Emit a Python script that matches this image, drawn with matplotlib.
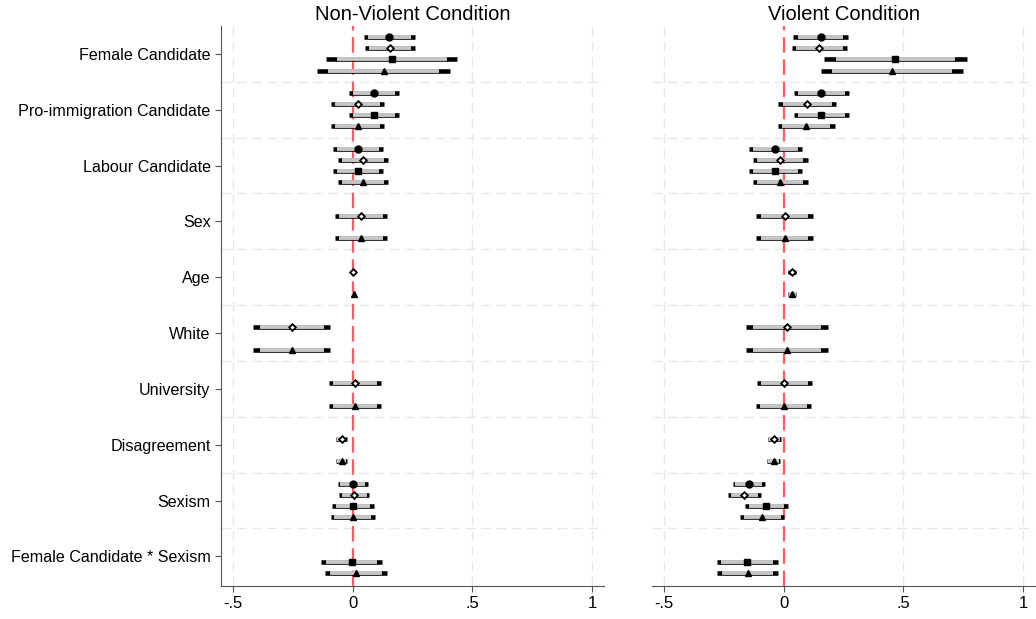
import matplotlib
matplotlib.use('Agg')
import numpy as np
import matplotlib.pyplot as plt

nan = np.nan

terms = ['Female Candidate', 'Pro-immigration Candidate', 'Labour Candidate', 'Sex', 'Age',
         'White', 'University', 'Disagreement', 'Sexism', 'Female Candidate * Sexism']
xticks = [-0.5, 0, 0.5, 1]
xticklabels = ['-.5', '0', '.5', '1']

# Non-violent condition: estimates and standard errors, models 1-4
nv_est_m1 = [0.153, 0.088, 0.021, nan, nan, nan, nan, nan, 0.000, nan]
nv_se_m1 = [0.054, 0.053, 0.053, nan, nan, nan, nan, nan, 0.032, nan]
nv_est_m2 = [0.157, 0.021, 0.042, 0.035, 0.003, -0.254, 0.010, -0.046, 0.007, nan]
nv_se_m2 = [0.053, 0.057, 0.053, 0.055, 0.004, 0.082, 0.055, 0.012, 0.032, nan]
nv_est_m3 = [0.163, 0.088, 0.021, nan, nan, nan, nan, nan, 0.001, -0.004]
nv_se_m3 = [0.140, 0.053, 0.053, nan, nan, nan, nan, nan, 0.044, 0.065]
nv_est_m4 = [0.129, 0.021, 0.042, 0.035, 0.004, -0.254, 0.010, -0.046, 0.001, 0.014]
nv_se_m4 = [0.141, 0.057, 0.053, 0.055, 0.004, 0.082, 0.055, 0.012, 0.047, 0.066]

# Violent condition
v_est_m1 = [0.154, 0.158, -0.035, nan, nan, nan, nan, nan, -0.146, nan]
v_se_m1 = [0.058, 0.059, 0.057, nan, nan, nan, nan, nan, 0.034, nan]
v_est_m2 = [0.149, 0.098, -0.014, 0.004, 0.036, 0.014, 0.003, -0.039, -0.164, nan]
v_se_m2 = [0.059, 0.062, 0.058, 0.060, 0.009, 0.087, 0.059, 0.014, 0.035, nan]
v_est_m3 = [0.467, 0.158, -0.035, nan, nan, nan, nan, nan, -0.072, -0.153]
v_se_m3 = [0.152, 0.059, 0.057, nan, nan, nan, nan, nan, 0.045, 0.065]
v_est_m4 = [0.453, 0.095, -0.014, 0.004, 0.036, 0.014, 0.000, -0.042, -0.090, -0.151]
v_se_m4 = [0.152, 0.061, 0.058, 0.060, 0.009, 0.087, 0.059, 0.014, 0.047, 0.065]

plt.rcParams['font.family'] = ['Liberation Sans', 'DejaVu Sans']

markers = [dict(marker='o', ms=5, mfc='black', mec='black'),
           dict(marker='D', ms=3.4, mfc='white', mec='black', mew=1.3),
           dict(marker='s', ms=5, mfc='black', mec='black'),
           dict(marker='^', ms=5, mfc='black', mec='black')]
offsets = [-0.3, -0.1, 0.1, 0.3]


def coefPanel(ax, ests, ses, title, showLabels):
    ygroups = np.arange(len(terms))
    for x in [-0.5, 0.5, 1]:
        ax.axvline(x, color='#e8e8e8', lw=1, ls=(0, (7, 4)), zorder=0)
    for y in ygroups[:-1] + 0.5:
        ax.axhline(y, color='#e8e8e8', lw=1, ls=(0, (7, 4)), zorder=0)
    ax.axvline(0, color='#ff5c63', lw=1.6, ls=(0, (7, 3)), zorder=1)
    for k in range(4):
        est = np.array(ests[k])
        se = np.array(ses[k])
        y = ygroups + offsets[k]
        ok = ~np.isnan(est)
        ax.hlines(y[ok], est[ok] - 1.96 * se[ok], est[ok] + 1.96 * se[ok],
                  color='black', lw=3.3, zorder=2)
        ax.hlines(y[ok], est[ok] - 1.645 * se[ok], est[ok] + 1.645 * se[ok],
                  color='#c6c6c6', lw=2.8, zorder=3)
        ax.plot(est[ok], y[ok], ls='none', zorder=4, **markers[k])
    ax.set_xlim(-0.55, 1.05)
    ax.set_ylim(9.53, -0.5)
    ax.set_xticks(xticks)
    ax.set_xticklabels(xticklabels, fontsize=12)
    ax.set_title(title, fontsize=14.5, pad=4)
    for s in ['top', 'right']:
        ax.spines[s].set_visible(False)
    ax.spines['bottom'].set_color('#555555')
    ax.tick_params(axis='x', colors='#555555', labelcolor='black', length=4)
    if showLabels:
        ax.set_yticks(ygroups)
        ax.set_yticklabels(terms, fontsize=11.6)
        ax.spines['left'].set_color('#555555')
        ax.tick_params(axis='y', colors='#555555', labelcolor='black', length=4)
    else:
        ax.spines['left'].set_visible(False)
        ax.set_yticks([])


fig = plt.figure(figsize=(10.36, 6.19), dpi=100)
ax1 = fig.add_axes([221 / 1036, 33 / 619, 383 / 1036, 560 / 619])
ax2 = fig.add_axes([652 / 1036, 33 / 619, 383 / 1036, 560 / 619])

coefPanel(ax1, [nv_est_m1, nv_est_m2, nv_est_m3, nv_est_m4],
          [nv_se_m1, nv_se_m2, nv_se_m3, nv_se_m4], 'Non-Violent Condition', True)
coefPanel(ax2, [v_est_m1, v_est_m2, v_est_m3, v_est_m4],
          [v_se_m1, v_se_m2, v_se_m3, v_se_m4], 'Violent Condition', False)

fig.savefig('out.png', dpi=100)
